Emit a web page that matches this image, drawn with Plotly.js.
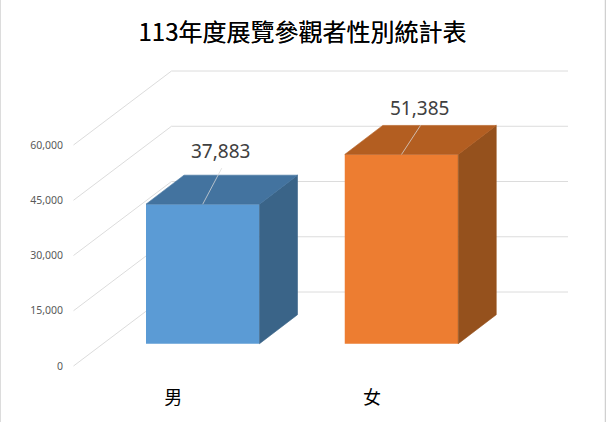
<!DOCTYPE html>
<html>
<head>
<meta charset="utf-8">
<script src="https://cdn.plot.ly/plotly-3.0.1.min.js"></script>
<style>html,body{margin:0;padding:0;background:#fff}</style>
</head>
<body>
<div id="chart" style="width:606px;height:422px"></div>
<script>
const chartTitle = '113年度展覽參觀者性別統計表';
const categories = ['男', '女'];
const visitors = [37883, 51385];
const axisTicks = [0, 15000, 30000, 45000, 60000];

const frontColors = ['#5B9BD5', '#ED7D31'];
const topColors = ['#43739F', '#B35E21'];
const sideColors = ['#3A6488', '#95511D'];

// projection of the pseudo-3D box, converted to axis units
const W = 606, H = 422, L = 68, T = 60, B = 37;
const pxPerCat = 198.75, firstCatPx = 202.75, pxPerVal = 55.25 / 15000, zeroPx = 366;
const xUnit = px => px / pxPerCat;
const vUnit = px => px / pxPerVal;
const xRange = [(L - firstCatPx) / pxPerCat, (W - firstCatPx) / pxPerCat];
const yRange = [(zeroPx - (H - B)) / pxPerVal, (zeroPx - T) / pxPerVal];

const floorBase = vUnit(22.3);
const barWidth = xUnit(113.5);
const depthX = xUnit(38), depthV = vUnit(29);
const wallLeft = (73.5 - firstCatPx) / pxPerCat;
const wallDepthX = xUnit(98), wallDepthV = vUnit(74);
const wallRight = (568 - firstCatPx) / pxPerCat;
const leaderDX = xUnit(19), leaderPx = [36, 29];
const labelShift = 17, catLabelOffset = xUnit(-29.5);

const traces = [];
traces.push({
  type: 'bar', x: categories.map((_, i) => i), y: visitors,
  base: visitors.map(() => floorBase), width: barWidth,
  marker: {color: frontColors, line: {width: 0}}, hoverinfo: 'y'
});
categories.forEach((c, i) => {
  const x0 = i - barWidth / 2, x1 = i + barWidth / 2;
  const yb = floorBase, yt = floorBase + visitors[i];
  traces.push({
    type: 'scatter', mode: 'lines', fill: 'toself', fillcolor: sideColors[i],
    line: {width: 0.6, color: sideColors[i]}, hoverinfo: 'skip',
    x: [x1, x1 + depthX, x1 + depthX, x1, x1],
    y: [yb, yb + depthV, yt + depthV, yt, yb]
  });
  traces.push({
    type: 'scatter', mode: 'lines', fill: 'toself', fillcolor: topColors[i],
    line: {width: 0.6, color: topColors[i]}, hoverinfo: 'skip',
    x: [x0, x1, x1 + depthX, x0 + depthX, x0],
    y: [yt, yt, yt + depthV, yt + depthV, yt]
  });
  traces.push({
    type: 'scatter', mode: 'lines', hoverinfo: 'skip',
    line: {width: 1, color: 'rgba(217,217,217,0.75)'},
    x: [i, i + leaderDX], y: [yt, yt + vUnit(leaderPx[i])]
  });
});

const gridColor = '#dcdcdc';
const shapes = axisTicks.map(v => ({
  type: 'path', layer: 'below', xref: 'x', yref: 'y',
  line: {color: gridColor, width: 1},
  path: `M${wallLeft},${v} L${wallLeft + wallDepthX},${v + wallDepthV} L${wallRight},${v + wallDepthV}`
}));
[0, W - 0.5].forEach(px => {
  const p = (px - L) / (W - L);
  shapes.push({type: 'line', xref: 'paper', yref: 'paper', x0: p, x1: p, y0: -B / (H - T - B), y1: (H - B) / (H - T - B),
    line: {color: '#d0d0d0', width: 1.5}});
});

const annotations = categories.map((c, i) => ({
  x: i + leaderDX, y: floorBase + visitors[i] + vUnit(leaderPx[i]),
  xref: 'x', yref: 'y', text: visitors[i].toLocaleString('en-US'),
  showarrow: false, xanchor: 'center', yanchor: 'middle', yshift: labelShift, xshift: -1,
  font: {family: '"Noto Sans", sans-serif', size: 19, color: '#404040'}
}));

Plotly.newPlot('chart', traces, {
  width: W, height: H, showlegend: false,
  paper_bgcolor: '#fff', plot_bgcolor: 'rgba(0,0,0,0)',
  margin: {l: L, r: 0, t: T, b: B, pad: 0},
  title: {
    text: chartTitle, x: 302.5 / W, xanchor: 'center', y: 1 - 33 / H, yanchor: 'middle',
    font: {family: '"Noto Sans CJK TC", sans-serif', size: 24, color: '#000', shadow: '0 0 0.6px rgba(0,0,0,0.8)'}
  },
  xaxis: {
    range: xRange, showgrid: false, zeroline: false, showline: false, ticks: '',
    tickmode: 'array', tickvals: categories.map((_, i) => i + catLabelOffset), ticktext: categories,
    tickangle: 0, tickfont: {family: '"Noto Sans CJK TC", sans-serif', size: 18, color: '#000'}
  },
  yaxis: {
    range: yRange, showgrid: false, zeroline: false, showline: false, ticks: '',
    tickmode: 'array', tickvals: axisTicks, ticktext: axisTicks.map(v => v.toLocaleString('en-US')),
    ticklabelstandoff: 4,
    tickfont: {family: '"Noto Sans", sans-serif', size: 10.5, color: '#595959'}
  },
  shapes, annotations
}, {displayModeBar: false, staticPlot: true});
</script>
</body>
</html>
